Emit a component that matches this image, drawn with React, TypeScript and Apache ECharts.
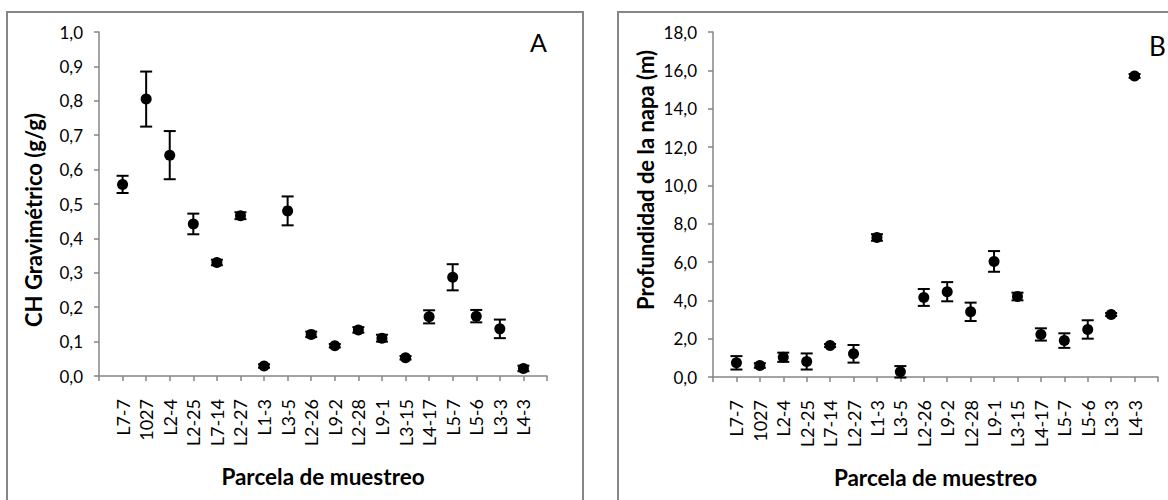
import React, { useEffect, useRef } from "react";
import * as echarts from "echarts";

const categories = ["L7-7", "1027", "L2-4", "L2-25", "L7-14", "L2-27", "L1-3", "L3-5", "L2-26", "L9-2", "L2-28", "L9-1", "L3-15", "L4-17", "L5-7", "L5-6", "L3-3", "L4-3"];
const chValues = [0.557, 0.805, 0.642, 0.442, 0.33, 0.466, 0.029, 0.48, 0.121, 0.088, 0.134, 0.11, 0.053, 0.172, 0.287, 0.174, 0.137, 0.022];
const chErrors = [0.025, 0.08, 0.07, 0.03, 0.008, 0.01, 0.005, 0.042, 0.008, 0.005, 0.008, 0.01, 0.005, 0.019, 0.038, 0.018, 0.027, 0.008];
const napaValues = [0.74, 0.6, 1.03, 0.81, 1.64, 1.21, 7.28, 0.27, 4.15, 4.45, 3.4, 6.03, 4.2, 2.22, 1.9, 2.48, 3.26, 15.71];
const napaErrors = [0.35, 0.12, 0.24, 0.42, 0.08, 0.46, 0.17, 0.3, 0.44, 0.5, 0.48, 0.54, 0.2, 0.32, 0.38, 0.48, 0.08, 0.1];
const xLabels = ["", ...categories, ""];

const FONT = "Lato";
const AXIS_COLOR = "#868686";

function errorBarRender(params: any, api: any) {
  const x = api.value(0);
  const y = api.value(1);
  const e = api.value(2);
  const top = api.coord([x, y + e]);
  const bot = api.coord([x, y - e]);
  const w = 6;
  const style = { stroke: "#000", lineWidth: 2 };
  return {
    type: "group",
    children: [
      { type: "line", shape: { x1: top[0], y1: top[1], x2: bot[0], y2: bot[1] }, style },
      { type: "line", shape: { x1: top[0] - w, y1: top[1], x2: top[0] + w, y2: top[1] }, style },
      { type: "line", shape: { x1: bot[0] - w, y1: bot[1], x2: bot[0] + w, y2: bot[1] }, style },
    ],
  };
}

export default function App() {
  const ref = useRef<HTMLDivElement>(null);
  useEffect(() => {
    document.body.style.margin = "0";
    const chart = echarts.init(ref.current!, undefined, { renderer: "svg" });
    const nameStyle = { fontFamily: FONT, fontSize: 22, fontWeight: "bold", fill: "#000" };
    const xAxisBase = (gridIndex: number) => ({
      type: "category",
      gridIndex,
      data: xLabels,
      boundaryGap: false,
      axisLine: { lineStyle: { color: AXIS_COLOR, width: 1.5 } },
      axisTick: { show: true, interval: 0, length: 5, lineStyle: { color: AXIS_COLOR, width: 1.5 } },
      axisLabel: { interval: 0, rotate: 90, margin: 23, fontFamily: FONT, fontSize: 18, color: "#000" },
      nameLocation: "middle",
      nameGap: 89,
      name: "Parcela de muestreo",
      nameTextStyle: { fontFamily: FONT, fontSize: 22.5, fontWeight: "bold", color: "#000" },
      splitLine: { show: false },
    });
    const yAxisBase = (gridIndex: number, max: number, interval: number) => ({
      type: "value",
      gridIndex,
      min: 0,
      max,
      interval,
      axisLine: { show: true, lineStyle: { color: AXIS_COLOR, width: 1.5 } },
      axisTick: { show: true, length: 5, lineStyle: { color: AXIS_COLOR, width: 1.5 } },
      axisLabel: {
        fontFamily: FONT,
        fontSize: 17,
        color: "#000",
        margin: 16,
        formatter: (v: number) => v.toFixed(1).replace(".", ","),
      },
      splitLine: { show: false },
    });
    chart.setOption({
      animation: false,
      backgroundColor: "#fff",
      grid: [
        { left: 99, top: 32, width: 448, height: 344 },
        { left: 713, top: 32, width: 445, height: 345 },
      ],
      xAxis: [xAxisBase(0), xAxisBase(1)],
      yAxis: [yAxisBase(0, 1, 0.1), yAxisBase(1, 18, 2)],
      graphic: [
        { type: "rect", shape: { x: 7, y: 12, width: 576, height: 520 }, style: { fill: "none", stroke: AXIS_COLOR, lineWidth: 2 }, silent: true },
        { type: "rect", shape: { x: 618, y: 12, width: 580, height: 520 }, style: { fill: "none", stroke: AXIS_COLOR, lineWidth: 2 }, silent: true },
        { type: "text", x: 530, y: 29, style: { text: "A", fontFamily: FONT, fontSize: 25, fill: "#000" } },
        { type: "text", x: 1149, y: 33, style: { text: "B", fontFamily: FONT, fontSize: 26, fill: "#000" } },
        {
          type: "text",
          x: 33,
          y: 220,
          rotation: Math.PI / 2,
          style: { ...nameStyle, text: "CH Gravimétrico (g/g)", align: "center", verticalAlign: "middle" },
        },
        {
          type: "text",
          x: 645,
          y: 180,
          rotation: Math.PI / 2,
          style: { ...nameStyle, text: "Profundidad de la napa (m)", align: "center", verticalAlign: "middle" },
        },
      ],
      series: [
        {
          type: "custom",
          xAxisIndex: 0,
          yAxisIndex: 0,
          renderItem: errorBarRender,
          encode: { x: 0, y: 1 },
          data: chValues.map((v, i) => [i + 1, v, chErrors[i]]),
          z: 2,
        },
        {
          type: "scatter",
          xAxisIndex: 0,
          yAxisIndex: 0,
          symbol: "circle",
          symbolSize: 11,
          itemStyle: { color: "#000", opacity: 1 },
          data: chValues.map((v, i) => [i + 1, v]),
          z: 3,
        },
        {
          type: "custom",
          xAxisIndex: 1,
          yAxisIndex: 1,
          renderItem: errorBarRender,
          encode: { x: 0, y: 1 },
          data: napaValues.map((v, i) => [i + 1, v, napaErrors[i]]),
          z: 2,
        },
        {
          type: "scatter",
          xAxisIndex: 1,
          yAxisIndex: 1,
          symbol: "circle",
          symbolSize: 11,
          itemStyle: { color: "#000", opacity: 1 },
          data: napaValues.map((v, i) => [i + 1, v]),
          z: 3,
        },
      ],
    });
    return () => chart.dispose();
  }, []);
  return <div ref={ref} style={{ position: "absolute", left: 0, top: 0, width: 1168, height: 500 }} />;
}
